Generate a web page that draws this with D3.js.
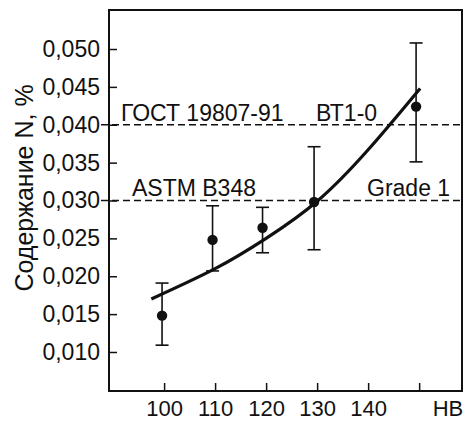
<!DOCTYPE html>
<html><head><meta charset="utf-8">
<script src="https://cdn.jsdelivr.net/npm/d3@7"></script>
<style>body{margin:0;background:#fff}svg{display:block}text{font-family:"Liberation Sans",Arial,sans-serif;fill:#111}</style>
</head><body>
<script>
const hb = [99.6, 109.5, 119.3, 129.4, 149.4];
const nMean = [0.0148, 0.0248, 0.0264, 0.0298, 0.0424];
const nLow = [0.0109, 0.0207, 0.0231, 0.0235, 0.0351];
const nHigh = [0.0191, 0.0293, 0.0291, 0.0371, 0.0508];
const fitHB = [97.5, 110, 120, 130, 140, 150.2];
const fitN = [0.0170, 0.0210, 0.0250, 0.0299, 0.0367, 0.0448];
const xTicks = [100, 110, 120, 130, 140, 150];
const xTickLabels = ["100", "110", "120", "130", "140", ""];
const yTicks = [0.010, 0.015, 0.020, 0.025, 0.030, 0.035, 0.040, 0.045, 0.050];
const limits = [0.040, 0.030];
const limitLabels = [["ГОСТ 19807-91", "ВТ1-0"], ["ASTM B348", "Grade 1"]];

const W = 466, H = 424;
const m = {left: 109, top: 10, right: 4, bottom: 33};
const svg = d3.select("body").append("svg").attr("width", W).attr("height", H);
const x = d3.scaleLinear().domain([89.2, 158.4]).range([m.left, W - m.right]);
const y = d3.scaleLinear().domain([0.00485, 0.05515]).range([H - m.bottom, m.top]);

// frame
svg.append("rect").attr("x", m.left).attr("y", m.top)
  .attr("width", W - m.right - m.left).attr("height", H - m.bottom - m.top)
  .attr("fill", "none").attr("stroke", "#111").attr("stroke-width", 2);

// y axis
const yAxis = d3.axisLeft(y).tickValues(yTicks).tickSize(-8).tickPadding(9)
  .tickFormat(d => d3.format(".3f")(d).replace(".", ","));
const gy = svg.append("g").attr("transform", `translate(${m.left},0)`).call(yAxis);
gy.select(".domain").remove();
gy.selectAll(".tick line").attr("stroke", "#111").attr("stroke-width", 1.5);
gy.selectAll(".tick text").style("font-size", "23px").attr("fill", "#111");

// x axis
const xAxis = d3.axisBottom(x).tickValues(xTicks).tickSize(-8).tickPadding(9)
  .tickFormat((d, i) => xTickLabels[i]);
const gx = svg.append("g").attr("transform", `translate(0,${H - m.bottom})`).call(xAxis);
gx.select(".domain").remove();
gx.selectAll(".tick line").attr("stroke", "#111").attr("stroke-width", 1.5);
gx.selectAll(".tick text").style("font-size", "22px").attr("fill", "#111");

svg.append("text").attr("x", 448).attr("y", 416).attr("text-anchor", "middle")
  .style("font-size", "22px").text("HB");

svg.append("text").attr("transform", `translate(33,188) rotate(-90)`)
  .attr("text-anchor", "middle").style("font-size", "25px").text("Содержание N, %");

// limit lines
svg.selectAll(".lim").data(limits).join("line")
  .attr("x1", 101).attr("x2", W - m.right)
  .attr("y1", d => y(d)).attr("y2", d => y(d))
  .attr("stroke", "#111").attr("stroke-width", 1.7).attr("stroke-dasharray", "7,4");

const labY = [y(limits[0]) - 4, y(limits[1]) - 5];
svg.append("text").attr("x", 121).attr("y", labY[0]).style("font-size", "23px").text(limitLabels[0][0]);
svg.append("text").attr("x", 316).attr("y", labY[0]).style("font-size", "23px").text(limitLabels[0][1]);
svg.append("text").attr("x", 132).attr("y", labY[1]).style("font-size", "23px").text(limitLabels[1][0]);
svg.append("text").attr("x", 367).attr("y", labY[1]).style("font-size", "23px").text(limitLabels[1][1]);

// fit curve
const fit = fitHB.map((h, i) => [h, fitN[i]]);
svg.append("path").datum(fit)
  .attr("d", d3.line().x(d => x(d[0])).y(d => y(d[1])).curve(d3.curveNatural))
  .attr("fill", "none").attr("stroke", "#111").attr("stroke-width", 3.2);

// error bars
const pts = hb.map((h, i) => ({h, v: nMean[i], lo: nLow[i], hi: nHigh[i]}));
const eb = svg.append("g").attr("stroke", "#111").attr("stroke-width", 1.6);
eb.selectAll(".v").data(pts).join("line")
  .attr("x1", d => x(d.h)).attr("x2", d => x(d.h)).attr("y1", d => y(d.lo)).attr("y2", d => y(d.hi));
eb.selectAll(".t").data(pts).join("line")
  .attr("x1", d => x(d.h) - 6.5).attr("x2", d => x(d.h) + 6.5).attr("y1", d => y(d.hi)).attr("y2", d => y(d.hi));
eb.selectAll(".b").data(pts).join("line")
  .attr("x1", d => x(d.h) - 6.5).attr("x2", d => x(d.h) + 6.5).attr("y1", d => y(d.lo)).attr("y2", d => y(d.lo));
svg.selectAll(".pt").data(pts).join("circle")
  .attr("cx", d => x(d.h)).attr("cy", d => y(d.v)).attr("r", 5.2).attr("fill", "#111");
</script>
</body></html>
